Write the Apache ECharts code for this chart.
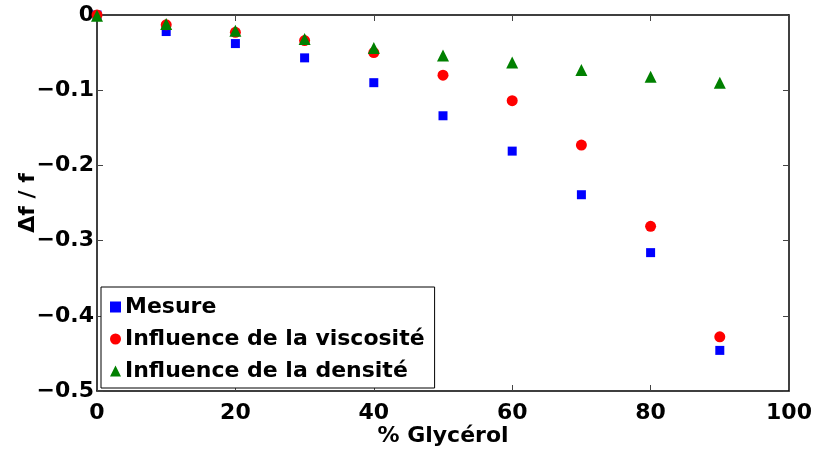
<!DOCTYPE html>
<html><head><meta charset="utf-8">
<script src="https://cdn.jsdelivr.net/npm/echarts@6/dist/echarts.min.js"></script>
<style>html,body{margin:0;padding:0;background:#fff}#c{width:814px;height:450px}</style>
</head><body><div id="c"></div>
<script>
const glycerol = [0, 10, 20, 30, 40, 50, 60, 70, 80, 90];
const mesure = [0, -0.022, -0.038, -0.057, -0.090, -0.134, -0.181, -0.239, -0.316, -0.446];
const viscosite = [0, -0.013, -0.023, -0.034, -0.050, -0.080, -0.114, -0.173, -0.281, -0.428];
const densite = [-0.001, -0.012, -0.021, -0.032, -0.044, -0.054, -0.063, -0.073, -0.082, -0.090];
const seriesNames = ['Mesure', 'Influence de la viscosité', 'Influence de la densité'];
const F = '"DejaVu Sans", "Liberation Sans", Arial, sans-serif';
const FS = 22;
const pairs = a => glycerol.map((x, i) => [x, a[i]]);
const chart = echarts.init(document.getElementById('c'));
const axisCommon = {
  axisLine: {show: true, onZero: false, lineStyle: {color: '#000', width: 1.5}},
  axisTick: {show: true, inside: true, length: 6, lineStyle: {color: '#444', width: 1}},
  splitLine: {show: false}
};
const txt = {fontFamily: F, fontWeight: 'bold', fontSize: FS, color: '#000'};
chart.setOption({
  animation: false,
  grid: {left: 97, right: 25, top: 15, bottom: 59, containLabel: false, outerBoundsMode: 'none'},
  xAxis: [
    Object.assign({type: 'value', min: 0, max: 100, interval: 20, position: 'bottom',
      name: '% Glycérol', nameLocation: 'middle', nameGap: 34, nameMoveOverlap: false,
      nameTextStyle: txt,
      axisLabel: Object.assign({margin: 11}, txt)}, axisCommon),
    Object.assign({type: 'value', min: 0, max: 100, interval: 20, position: 'top',
      axisLabel: {show: false}}, axisCommon)
  ],
  yAxis: [
    Object.assign({type: 'value', min: -0.5, max: 0, interval: 0.1, position: 'left',
      name: 'Δf / f', nameLocation: 'middle', nameGap: 58, nameRotate: 90, nameMoveOverlap: false,
      nameTextStyle: txt,
      axisLabel: Object.assign({margin: 3,
        formatter: v => Math.abs(v) < 1e-9 ? '0' : '\u2212' + Math.abs(v).toFixed(1)}, txt)}, axisCommon),
    Object.assign({type: 'value', min: -0.5, max: 0, interval: 0.1, position: 'right',
      axisLabel: {show: false}}, axisCommon)
  ],
  legend: {
    orient: 'vertical', left: 101, top: 287, width: 335,
    backgroundColor: '#fff', borderColor: '#000', borderWidth: 1,
    padding: [9, 10, 6, 9], itemGap: 10, itemWidth: 11, itemHeight: 11,
    textStyle: Object.assign({padding: [0, 0, 0, -1]}, txt),
    data: [
      {name: seriesNames[0], icon: 'rect', itemStyle: {color: '#0000ff'}},
      {name: seriesNames[1], icon: 'circle'},
      {name: seriesNames[2], icon: 'triangle'}
    ]
  },
  series: [
    {name: seriesNames[0], type: 'scatter', symbol: 'rect', symbolSize: 9, data: pairs(mesure), itemStyle: {color: '#0000ff', opacity: 1}},
    {name: seriesNames[1], type: 'scatter', symbol: 'circle', symbolSize: 11, data: pairs(viscosite), itemStyle: {color: '#ff0000', opacity: 1}},
    {name: seriesNames[2], type: 'scatter', symbol: 'triangle', symbolSize: 12, data: pairs(densite), itemStyle: {color: '#008000', opacity: 1}}
  ]
});
</script></body></html>
